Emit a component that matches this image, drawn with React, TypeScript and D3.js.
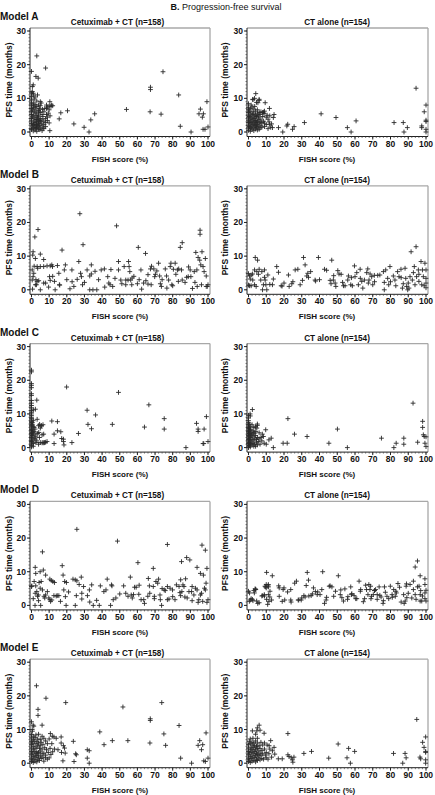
import React from 'react';
import * as d3 from 'd3';

type P = [number, number];

const aCetux: P[] = [
[0,18],[3,22.6],[8,19],[2.5,16.5],[3.8,16],[1,14],[0.5,13.5],[0,11.6],[1,11],[3.4,11],[5,9],[10.4,9],[11.3,8],[10,7.7],[8.5,7],[6.2,6.7],[0,8.6],[1,7.2],[0,5.2],[2,5.7],[4.3,6],[3.8,4.7],[2.8,3.7],[4.7,3.4],[1,2.2],[2.8,2.2],[0,0.7],[4.7,0.7],[10,2.7],[10.4,0.4],[6.6,1.2],[2.8,1.4],[8.5,5.2],[9,4.4],[15.7,3.9],[16.6,5.7],[20.4,6.3],[24,2.4],[29.8,1.4],[32.6,0],[33.6,3.6],[35.8,5.4],[53.8,6.7],[67.4,13.3],[67.4,12.6],[67.2,6],[74.5,17.9],[73.4,5.3],[83.4,11],[84.3,1.7],[90.4,0],[94.9,5.4],[95.7,6.8],[96.8,4.4],[97.4,5.4],[97.2,0.8],[98.3,0.8],[99.4,9],[100,1.5],
[0,1],[0,2.5],[0,3.3],[0,4],[0,6],[0,7],[0,8],[0,9.5],[0,10.5],[0.5,1.8],[0.5,4.5],[0.5,6.5],[0.5,12],[1,0.3],[1,1.2],[1,3],[1,5],[1,7.8],[1,8.6],[1,11.5],[1.5,2],[1.5,4.2],[1.5,6.2],[1.5,9.8],[2,0.6],[2,1.4],[2,2.8],[2,3.6],[2,7.4],[2,8.2],[2,10.4],[2.5,1],[2.5,4.8],[2.5,6.8],[3,0.2],[3,2],[3,2.6],[3,3],[3,5.6],[3,7.6],[3,9.2],[3.5,1.6],[3.5,3.8],[3.5,4.4],[4,0.9],[4,2.4],[4,3.2],[4,5],[4,6.4],[4,8],[4.5,2],[4.5,7],[5,1.2],[5,3],[5,4],[5,5.8],[5,7.8],[5.5,2.6],[5.5,8.6],[6,0.4],[6,1.8],[6,3.6],[6,5.2],[6.5,4.6],[7,1],[7,2.2],[7,3.2],[7,6],[7.5,7],[8,1.6],[8,2.8],[8,4],[8.5,8],[9,3.4],[9,7.4],[9.5,5.6],[10,6.6],[10.5,4.8],[11,7.6],[12,7.8]
];

const aCT: P[] = [
[94.4,13],[100,8],[99,6],[100,3.5],[100,3.1],[97.6,1.8],[97.6,1.3],[100,0.8],[100,0],[87.2,2.8],[87.6,0],[89.5,1.3],[82,2.8],[60.6,3.3],[55.7,1.3],[57.8,0],[49.3,4.3],[40.9,5.4],[31.5,2.8],[25.7,1.6],[24.8,0.8],[22.1,2.3],[21.6,1.8],[19.3,0],[16.9,1.3],[14.4,5.2],[14,4.3],[13.5,1.3],[11.8,7],[11.6,3],[11.8,2.3],[9.4,8.7],[8.8,5.5],[8.4,5.9],[4.1,11.4],[3.4,10],[2.4,9.7],[6,9.7],[5.3,8.7],[0,8.4],
[0,0.5],[0,1.2],[0,2],[0,2.8],[0,3.5],[0,4.2],[0,5],[0,5.8],[0,6.6],[0,7.2],[0.5,1.6],[0.5,3],[0.5,4.6],[0.5,6.2],[1,0.2],[1,1],[1,2.4],[1,3.8],[1,5.4],[1,7],[1.5,1.4],[1.5,2.8],[1.5,4.2],[1.5,8],[2,0.8],[2,1.8],[2,3.2],[2,4.8],[2,6],[2,7.4],[2.5,2.2],[2.5,3.6],[2.5,5.2],[2.5,9.6],[3,0.4],[3,1.2],[3,2.6],[3,4],[3,5.6],[3,6.8],[3.5,1.8],[3.5,3],[3.5,4.4],[3.5,7.6],[4,0.9],[4,2],[4,3.4],[4,5],[4,6.2],[4.5,1.4],[4.5,2.8],[4.5,4.6],[4.5,8.8],[5,0.6],[5,2.2],[5,3.2],[5,5.4],[5,6.6],[5.5,1.6],[5.5,3.8],[5.5,4.8],[6,0.8],[6,2.6],[6,4.2],[6,5.8],[6,9.4],[6.5,1.2],[6.5,3],[6.5,5.2],[7,2],[7,3.6],[7,6],[7.5,1.4],[7.5,2.8],[8,4.6],[8,5.8],[8.5,3.2],[9,1.6],[9,2.6],[9,6.2],[10,4.4],[10,2.2],[10.5,5],[11,1],[11,3.8],[12,4.8],[12.5,1.4],[13,2.4]
];

const bCetux: P[] = [
[27.4,22.6],[48.2,19],[3.7,17.9],[1.9,15.7],[29.2,13.4],[17.3,11.8],[5,10.6],[0.9,11.3],[2.2,9.3],[6.9,9],[0.7,10.3],[26.8,8.4],[31.5,5.9],[27.8,4.9],[28.3,3.9],[25.9,3.1],[22.9,5.9],[19.2,7.4],[18.6,5.9],[15.5,4.9],[14.7,7.2],[11.5,7.4],[11.9,6.9],[10.6,7.1],[8.8,7.1],[6.9,6.9],[5,6.9],[3.2,6.9],[3.5,6.4],[0.4,5.9],[1.3,4.9],[0.9,3.9],[0.4,2.9],[3.2,2.5],[4.1,2.7],[2.8,1.5],[2.2,1.5],[6.9,2],[10.2,3.9],[10.6,2.8],[9.7,0.8],[5,0],[0.6,0.2],[13.4,0],[15.8,1.5],[21.8,0.3],[28.9,1.5],[33.9,4.7],[33,4.1],[33.9,7.4],[33,0],[34.8,0],[37,0],[39.5,5.9],[41.3,6.2],[43.2,3.9],[43.8,2],[44.5,1.5],[47.3,3.4],[49.3,8.4],[49.3,5.9],[50.6,2.9],[51.2,1.8],[52.5,6.9],[53.4,2.9],[53.4,1.5],
[55,8.4],[55.3,6.9],[55.7,5.4],[56.2,2.9],[56.8,1.5],[54.7,2.9],[60.5,12.6],[62,5.9],[62.4,0.2],[63.5,2],[64.6,10.8],[64.8,2.7],[66,1.7],[67.4,6.2],[67.8,1.5],[69.3,6.2],[69.8,3.9],[70.2,4.6],[72,7.9],[72.6,4.1],[73,1.8],[73.6,1],[75.8,6.2],[76.5,4.1],[76.7,0.5],[77.7,2.9],[78.6,6.9],[79,7.9],[79.5,1.5],[80.4,6.1],[81.4,7.9],[81.8,4.6],[82.7,5.9],[83.2,2.5],[83.4,6.2],[84.3,12.6],[85.4,14],[85,5.9],[85.4,2.9],[87.9,3.7],[88.8,3.9],[89.9,5.9],[90.3,3.9],[91.2,0.4],[92.2,5.4],[92.6,2.2],[93.1,11.1],[93.7,5.9],[93.9,1],[94.4,9.6],[95.3,8.8],[95.5,17.7],[95.5,16.5],[95.9,7.4],[96.3,1.5],[96.6,11.3],[97.2,6.9],[97.8,5.4],[98.5,9.3],[99,4.1],[99,1],[99.6,1],[100,1.5],
[1.5,7],[2.5,3],[12,4],[20,3],[24,1],[36,5.5],[38,3],[45,6],[58,4],[60,1.8],[57,3.5],[66,4.5],[71,5.6],[74,3],[80,1.2],[87,2.2],[89,6.8],[8,2],[13,2.5],[16,1.4],[23,2.4],[30,2.2],[41.5,0.8],[46,1],[61,3],[68,7]
];

const bCT: P[] = [
[0.6,4.1],[1.5,4.4],[2.3,4.7],[0.6,1.2],[1.5,1.2],[2.4,2.9],[3.8,9.6],[5.1,8.8],[3.4,5.9],[4.7,5.4],[6,6.1],[5.6,4.6],[4.3,1],[3.4,1.5],[7.5,5.4],[6.9,2.9],[8.4,1.5],[7.9,0],[9,5.9],[9,3.7],[9.4,2.9],[9.8,1.5],[10.3,0],[10.9,4.4],[13.5,1.5],[15.9,6.9],[16.9,5.2],[18.4,1.2],[18.9,1.1],[22.5,4.4],[22.9,1],[24.4,1.8],[26.3,5.9],[27.8,6.1],[29.1,1.5],[30.4,2.8],[31,9.6],[31.9,7.4],[32.8,4.1],[33.4,4.9],[33.8,3.7],[37.5,2.9],[37.8,2.6],[39.4,9.6],[42.8,6.1],[46,2.8],[46.5,1.8],[46.9,8.8],[47.8,2.9],[48.8,2],[49.2,1],[50.3,5.7],[51,4.7],[52.2,4.6],[53.5,1.2],[54.4,1.2],[55.9,2.9],[56.3,4.1],[57.6,1.5],[58.5,1.2],[59.7,7.1],[60,3.9],[61,5.1],[61.9,1.5],[62.9,6.1],[63.8,2.5],[64.4,0.5],[65.3,2.9],[66.6,5.1],[67.2,6.2],[67.5,2],[67.9,2.9],[68.5,4.7],[69.4,3.9],[70,1.5],[70.9,4.3],[72.8,4.3],
[76,5.4],[76.5,0],[76.5,2.2],[77.3,5.9],[78.4,3.4],[79,1.5],[79.7,6.9],[81.6,4.1],[82.5,2.9],[84,5.4],[84.8,3.9],[85.9,6.1],[86.7,0.5],[87.2,1.8],[88.2,6.4],[88.6,3.4],[89.1,1],[89.7,0],[90.4,0.5],[91,3.9],[91.6,11.3],[92.3,2.9],[92.9,5.1],[93.4,6.9],[93.8,1.5],[94.4,12.8],[94.7,3.9],[95.7,5.9],[96,2.5],[97.2,8.4],[97.6,1.5],[98,5.9],[98.5,3.9],[99.4,7.9],[100,5.9],[100,3.4],[100,2],[100,0.6],
[0,4.8],[0,1.4],[1,3.2],[12,1.6],[14,3.2],[20,2],[25,2.4],[35,5.4],[40,3],[44,5.8],[48,4.2],[53,2.2],[58,3.6],[63,3.4],[71,2.4],[74,4.4],[80,2.4],[83,1.2],[86,3.6],[90,2],[96,4.6],[99,1.2]
];

const cCetux: P[] = [
[0,23],[0,22.5],[0,19],[0,18.5],[0,17.8],[0,16],[0,15.5],[0,14],[0,13.2],[0,12.5],[0,11.8],[0,11],[0,10.5],[0,10],[0,9.5],[0,9],[0,8.6],[0,8.2],[0,7.8],[0,7.4],[0,7],[0,6.6],[0,6.2],[0,5.8],[0,5.4],[0,5],[0,4.6],[0,4.2],[0,3.8],[0,3.4],[0,3],[0,2.6],[0,2.2],[0,1.8],[0,1.4],[0,1],[0,0.6],[0,0.2],
[0.5,6.8],[0.5,5.2],[0.5,3.6],[0.5,2],[0.5,7.4],[0.5,4.4],[1,11.2],[1,8],[1,4.4],[1,1.2],[1,0.4],[1,6.2],[1.5,6],[1.5,2.8],[1.5,4.8],[2,2.5],[2,5.5],[2,3.8],[2.5,1.5],[2.5,3.2],[3,14.1],[3.2,8.4],[3,2],[3.5,4.2],[4,6.5],[4,1],[4.5,3],[5,5.8],[5,1.5],[5.5,6.5],[6,3.8],[6,1.4],[6.5,6.8],[7,1.4],[8,1.6],[2.2,11.4],[4.6,6.9],[5.6,6.5],[4.1,4.5],[6.9,4],[6.5,1.5],[7.4,1.5],[8.8,1.8],
[11.5,7.9],[12.8,4],[12.8,1.2],[14.7,7.7],[14.7,5],[16.6,4.7],[17.1,2.7],[18.1,2.5],[18.1,1.8],[18.4,0.8],[19.9,18],[22.9,1.5],[26.6,4.2],[31.5,11.1],[32,6.9],[34,5.6],[36.3,9.7],[45.8,6.9],[49.3,16.4],[64,6.1],[66.5,12.7],[75.2,8.6],[75.2,5.5],[87.5,0],[93.5,7.2],[94.4,5.5],[94.4,4.8],[97.6,1.2],[97.2,1.2],[97.8,5.5],[99.1,9.2],[100,1.8]
];

const cCT: P[] = [
[0,0],[0,0.4],[0,0.8],[0,1.2],[0,1.6],[0,2],[0,2.4],[0,2.8],[0,3.2],[0,3.6],[0,4],[0,4.4],[0,4.8],[0,5.2],[0,5.6],[0,6],[0,6.4],[0,6.8],[0,7.4],[0,8],[0,8.8],[0,9.6],[0.5,0.6],[0.5,1.4],[0.5,2.6],[0.5,3.4],[0.5,4.2],[0.5,5],[0.5,5.8],[0.5,7],[1,0.2],[1,1],[1,2],[1,3],[1,4],[1,5.4],[1,6.2],[1,9.4],[1.5,1.6],[1.5,3.6],[1.5,4.6],[2,0.8],[2,2.4],[2,4],[2,6.8],[2.5,1.2],[2.5,3.2],[2.5,5],[3,0.4],[3,2],[3,4.4],[3,6],[3.5,1],[3.5,2.8],[4,0.4],[4,3.6],[4,6.2],[4.5,1.6],[4.5,2.4],[5,0.8],[5,3],[5,6.6],[5.5,1.8],[6,2.6],[6,4.4],[6.5,1],[7,3],[7.5,2],
[2.2,11.3],[0.9,10],[5,7],[4.7,5.8],[4.1,4.8],[3.2,4.3],[7.8,4],[8.4,3.3],[9.7,5.3],[8.8,1.3],[10,1],[11.5,2.3],[12.8,2.8],[14,0],[19.5,1.3],[21.8,1.3],[22.2,8.6],[25.9,4],[33,3.3],[45.3,1.3],[50.1,5.5],[55.7,0],[74.9,2.8],[81.9,0],[83.2,1.3],[87.5,2.8],[87.5,1],[92.7,13.2],[95.3,1.6],[98.1,7.8],[98.1,6],[98.5,3.8],[99,3.3],[99.4,1.3],[100,0.3],[100,3.2]
];

const dCetux: P[] = [
[25.7,22.6],[48.7,19.1],[77,18.1],[96.6,17.9],[98.5,16.4],[6.2,15.9],[60.3,12.7],[85,13],[87.9,14.2],[89.7,13.5],[2.1,11.3],[17.4,11.8],[69,11],[93.8,11.3],[99.4,11],[4.9,10],[6.7,10.5],[8,9],[2.4,9.5],[17.9,9],[28.2,8.4],[42.9,7.8],[56,8.4],[66.2,8],[84.5,7.6],[87.3,7.9],[97.4,9],[95.7,9.5],[10.4,7.8],[11.2,7.4],[12.1,7.1],[13,6.8],[18.8,7.1],[19.8,6.8],[23.5,7.8],[24.8,7.6],[25.7,7.3],[1.5,7.1],[4.3,6.8],[5.5,7.1],[0.2,5.8],[2.4,5.8],[4.9,5.1],[6.2,4.6],[9,4.1],[8,3.1],[3,4.1],[3.9,3.1],[3.4,2.7],[2.1,3.6],[7.1,2.7],[7.5,2.2],[9.8,2.2],[10.4,1.7],[10.8,1.2],[12.7,2.9],[14.6,2.9],[15.5,2.9],[16.4,1.2],[18.3,4.6],[19.2,2.6],[19.6,0],[2,0],[5.2,0],[24.8,0],[25.4,2.9],[29.5,5.6],[28.5,3.6],[28.5,1.9],[31.7,2.9],[32.8,4.6],[34.1,6.1],[35,0],[36.9,1.5],[38.4,0],[41,4.1],[42.2,4.6],[45.3,6.1],[45.6,5.8],[44.8,0],[46.3,1.7],[47.8,2.2],[52.2,5.8],[53.4,3.6],[54.7,2.7],[56.5,3.1],[57.1,2.2],[57.8,3.2],[58.4,5.4],[59.3,5.4],[60.8,3.3],[62.1,1.7],[63.6,1.7],[65.9,2.7],[66.8,5.8],[69,5.6],[69.6,2.7],[69.6,2],[70.5,7.1],[71.5,6.6],[72,7.8],[72.8,3.1],[73,1.7],[73.7,0],[75.2,4.6],[75.8,4.4],[77,1.7],[77,5.6],[77.9,1.9],[78.5,5.1],[79.9,4.6],[81.3,1.7],[82.1,6.1],[83.6,5.6],[84.1,3.8],[84.5,2.9],[85.2,4.1],[85.8,6.1],[86.4,5.6],[86.9,2.5],[88.2,2.2],[89.2,4.1],[90.7,4.1],[91,5.6],[92,3.1],[92.9,5.1],[93.8,4.6],[94.4,0.9],[94.8,1.7],[95.7,3.1],[96.3,3.6],[97,1.2],[98,5.1],[98.5,4.6],[98.9,6.6],[99.4,0.9],[100,1.7],
[0,5.6],[1,2],[4,1.4],[11.5,1.6],[14,2.8],[21,4],[27,6.2],[33,1],[39,5.8],[50,3.4],[61,6],[64,0.6],[67,3.6],[74,5],[80,2.6],[91,1.4]
];

const dCT: P[] = [
[95.2,13.2],[93.9,11.4],[96.7,8.8],[99.4,7.9],[99.4,6.2],[95.2,5.5],[96.1,5.7],[92.9,7.2],[91,6.2],[92.9,4.7],[96.7,3.2],[93.9,3.2],[94.4,1.8],[99.4,3.7],[99.4,2],[96.7,1.3],[97.6,1.3],[88.8,5.7],[87.4,3.2],[87.7,0.6],[88.3,1.3],[89.2,2.3],[85.1,5.4],[84.2,6.5],[83.3,3.7],[82.7,2.7],[81.8,4.7],[80.9,3.2],[79.9,5.7],[78,2.7],[77.1,3.9],[76.6,5.5],[75.8,0.6],[74.7,2.5],[73.6,5.5],[72.5,3.2],[72.5,1.8],[71.6,4.7],[71,4.4],[70.3,3.2],[69.3,2.7],[68.4,4.7],[67.8,6.2],[68.8,5.7],[67.3,3.2],[66.5,4.7],[65.4,2],[64.7,1.1],[63.2,4.7],[62.3,7.2],[60.4,2],[59.5,2.9],[58.2,3.5],[57.6,5.5],[55.8,1.8],[54.3,4.9],[53.5,1.3],[52.6,2.3],[51.7,3.2],[50.6,8.8],[48,2.7],[47,5.5],[45.5,5.7],[43.7,1.6],[42.8,0.6],[41.8,10],[41.3,4.7],[40.3,3.2],[38.7,3.2],[37.7,4.1],[36.6,5.2],[35.3,2.9],[33.8,7.5],[33.1,9.8],[32.5,5.9],[31.9,2.5],[31.2,2.9],[29.7,1.6],[28.3,1.6],[27,7.2],[23.8,4.7],[23.8,1.6],[20.4,1.6],[20,5.2],[19.5,4.7],[17.3,5.2],[17.3,2.7],[13.4,8.8],[13,1.6],[12.1,4.2],[11.2,5.5],[11.2,6.2],[11.2,3.2],[10.8,0.3],[10.2,9.8],[10.2,1.8],[9.3,5.7],[8.9,3.2],[8,2.9],[4.1,4.7],[3.7,4.9],[3.3,3.7],[4.6,1.3],[5.2,0.6],[2.2,1.8],[1.5,2],[0.6,3.7],
[0,4.2],[0.5,1.2],[1,1.6],[2.5,1.4],[3,4.4],[4,4.8],[6,0.8],[7.5,2.8],[9,2.8],[9.5,5.5],[10,5.2],[10,6.2],[11,5.8],[11.5,1.2],[12,2.5],[17,5.8],[19,1.2],[22,4],[24,1],[26,6.6],[28,1.6],[30,2.2],[34,2.8],[36,3.4],[39,4],[44,2.4],[46,5.8],[49,4.2],[52,4.6],[56,2.6],[58,3.2],[61,2],[63,4.2],[66,6],[69,2],[71,4.4],[74,3],[76,1.4],[79,2],[81,2.4],[83,4.2],[86,1],[89,6.4],[90,3.6],[92,2.2],[97,4.4],[98,2.8],[100,4.5],[100,1.3]
];

const eCetux: P[] = [
[2.8,23],[8.2,19.3],[19.4,18],[73.8,18],[3.7,16],[3.7,14.2],[51.8,16.7],[67.3,13.2],[67.3,12.7],[83.6,11.2],[0,12.3],[0.9,11.3],[1.3,11],[6,11.3],[0.4,10],[10.7,8.8],[11.8,8],[12.7,7.8],[16.8,7.8],[16.8,6],[18.1,5.2],[18.7,4.5],[19.1,3],[17.8,0.7],[23.7,6.5],[25,2.8],[25.4,2.5],[24.1,0.5],[31.6,4],[32.7,3.7],[31.6,1.5],[32.7,0],[38.7,9.3],[41.1,5.5],[45.8,6.7],[54.6,6.7],[67.1,6],[75,8.7],[76,5.3],[84.5,1.5],[90.7,0],[94.4,5.3],[95.3,6.7],[96.3,4],[97,5.5],[97.6,0.7],[98.5,0.5],[98.9,9],[100,1.5],
[0,0.5],[0,1.5],[0,2.5],[0,3.5],[0,4.5],[0,5.5],[0,6.5],[0,7.5],[0,8.5],[0.5,1],[0.5,3],[0.5,6],[0.5,9.5],[1,0.2],[1,2],[1,4],[1,5],[1,7],[1,8],[1.5,1.2],[1.5,3.4],[1.5,6.6],[2,0.6],[2,2.4],[2,4.4],[2,5.8],[2,7.6],[2.5,1.6],[2.5,3],[2.5,8.4],[3,0.4],[3,2.2],[3,3.4],[3,4.8],[3,6.4],[3.5,1],[3.5,2.8],[3.5,5.4],[3.5,7.2],[4,1.8],[4,3.2],[4,6],[4,8.6],[4.5,0.8],[4.5,4.4],[5,2.2],[5,3.6],[5,5.2],[5,7],[5.5,1.4],[5.5,6.2],[6,2.8],[6,4.2],[6,8],[6.5,1.8],[6.5,5.6],[7,0.6],[7,3],[7,7.4],[7.5,4.6],[8,1.6],[8,2.4],[8,6.6],[8.5,4],[9,1.2],[9,5.8],[9.5,3.2],[10,1.6],[10,7.2],[10.5,4.4],[11,2.6],[11.5,5.8],[12,3.4],[13,4.2],[14,7.4],[15,4],[17,3.2]
];

const eCT: P[] = [
[94.8,13],[99.8,7.8],[98.1,6.2],[98.9,4.7],[99.8,3.5],[99.8,3.2],[96.6,1.8],[97,1.3],[99.8,1],[99.8,0],[88.2,2.9],[88.8,1.6],[86.9,0],[81.7,2.9],[59.8,3.5],[56.4,4.4],[55.5,1.6],[57.4,0],[50.5,5.7],[45.2,1.5],[35.5,3.5],[31.2,2.9],[22.2,8.8],[22.2,2.5],[22.8,2],[24.1,1.6],[24.7,1],[25.6,1.8],[25,0.3],[19,1.3],[16.8,1.3],[14.8,2.7],[14.4,4.7],[12.5,6.7],[13.5,3.7],[11.6,5.2],[8.8,8.9],[4.7,9.6],[2.2,9.6],[6,11.3],[5,10.5],[6.5,9.8],
[0,0.5],[0,1.5],[0,2.5],[0,3.5],[0,4.5],[0,5.5],[0.5,1],[0.5,3],[0.5,6.5],[1,0.2],[1,2],[1,4],[1,5.8],[1,7.2],[1.5,1.4],[1.5,3.2],[1.5,4.8],[2,0.6],[2,2.4],[2,4.2],[2,6.2],[2.5,1.6],[2.5,3.6],[2.5,5.4],[2.5,7.4],[3,0.8],[3,2.8],[3,4.6],[3,6],[3.5,1.8],[3.5,3.4],[3.5,5.2],[4,0.4],[4,2.2],[4,4],[4,6.6],[4,8.6],[4.5,1.2],[4.5,3],[4.5,5],[5,0.8],[5,2.6],[5,4.4],[5,6],[5,7.4],[5.5,1.6],[5.5,3.6],[6,2.2],[6,5.2],[6.5,1],[6.5,3],[6.5,4.4],[7,2.4],[7,6.2],[7.5,1.4],[7.5,3.8],[8,2.8],[8,5.4],[8.5,1.2],[9,4.2],[9,6],[9.5,2.4],[10,1.6],[10,3.2],[10.5,5.4],[11,1.2],[11.5,2.8],[12,4.2],[13,1.8]
];

const panelData: P[][][] = [
  [aCetux, aCT],
  [bCetux, bCT],
  [cCetux, cCT],
  [dCetux, dCT],
  [eCetux, eCT],
];

const modelNames = ['Model A', 'Model B', 'Model C', 'Model D', 'Model E'];
const armTitles = ['Cetuximab + CT (n=158)', 'CT alone (n=154)'];
const xTicks = [0, 10, 20, 30, 40, 50, 60, 70, 80, 90, 100];
const yTicks = [0, 10, 20, 30];
const xMinor = d3.range(0, 101, 2);
const yMinor = d3.range(0, 31, 1);

const FONT = "'Liberation Sans', Arial, Helvetica, sans-serif";

const cols = [
  { axis: 30, x0: 31.5, x1: 208, right: 210, yLab: 9, tickEnd: 26, titleX: 117.5, fishX: 120 },
  { axis: 247, x0: 248.5, x1: 426, right: 428, yLab: 225, tickEnd: 243, titleX: 337, fishX: 327 },
];

const rowY0 = (row: number) => 132 + 157.8 * row;

function Panel({ data, row, col }: { data: P[]; row: number; col: number }) {
  const c = cols[col];
  const y0 = rowY0(row);
  const x = d3.scaleLinear().domain([0, 100]).range([c.x0, c.x1]);
  const y = d3.scaleLinear().domain([0, 30]).range([y0, y0 - 101]);
  const top = y(30) - 3;
  const bottom = y0 + 4.5;
  const arm = 2.4;
  const d = data.map(([vx, vy]) => {
    const px = x(vx), py = y(vy);
    return `M${px - arm},${py}h${arm * 2}M${px},${py - arm}v${arm * 2}`;
  }).join('');
  return (
    <g>
      <line x1={c.axis} x2={c.right} y1={top} y2={top} stroke="#a8a8a8" strokeWidth={1.3} />
      <line x1={c.right} x2={c.right} y1={top} y2={bottom} stroke="#a8a8a8" strokeWidth={1.3} />
      <line x1={c.axis} x2={c.axis} y1={top} y2={bottom} stroke="#222" strokeWidth={1} />
      <line x1={c.axis} x2={c.right} y1={bottom} y2={bottom} stroke="#222" strokeWidth={1} />
      {yMinor.map((t) => (
        <line key={'ym' + t} x1={c.axis - 1.5} x2={c.axis} y1={y(t)} y2={y(t)} stroke="#444" strokeWidth={0.7} />
      ))}
      {yTicks.map((t) => (
        <g key={'y' + t}>
          <line x1={c.axis - 3} x2={c.axis} y1={y(t)} y2={y(t)} stroke="#222" strokeWidth={1} />
          <text x={c.tickEnd} y={y(t) + 3} textAnchor="end" fontSize={8.5} fontWeight="bold" fill="#111">{t}</text>
        </g>
      ))}
      {xMinor.map((t) => (
        <line key={'xm' + t} x1={x(t)} x2={x(t)} y1={bottom} y2={bottom + 1.5} stroke="#444" strokeWidth={0.7} />
      ))}
      {xTicks.map((t) => (
        <g key={'x' + t}>
          <line x1={x(t)} x2={x(t)} y1={bottom} y2={bottom + 3} stroke="#222" strokeWidth={1} />
          <text x={x(t)} y={y0 + 14.5} textAnchor="middle" fontSize={8.5} fontWeight="bold" fill="#111">{t}</text>
        </g>
      ))}
      <path d={d} stroke="#2a2a2a" strokeWidth={0.9} fill="none" />
      <text x={c.titleX} y={y0 - 107} textAnchor="middle" fontSize={8.2} fontWeight="bold" fill="#111">{armTitles[col]}</text>
      <text x={c.fishX} y={y0 + 29.5} textAnchor="middle" fontSize={8} fontWeight="bold" fill="#111">FISH score (%)</text>
      <text transform={`translate(${c.yLab + 3},${y0 - 52}) rotate(-90)`} textAnchor="middle" fontSize={8.5} fontWeight="bold" fill="#111">PFS time (months)</text>
    </g>
  );
}

export default function App() {
  return (
    <div style={{ position: 'absolute', left: 0, top: 0 }}>
      <svg width={435} height={795} style={{ display: 'block', background: '#fff', fontFamily: FONT }}>
        <text x={226} y={9.5} textAnchor="middle" fontSize={9} fill="#111">
          <tspan fontWeight="bold">B.</tspan> Progression-free survival
        </text>
        {panelData.map((pair, row) => (
          <g key={row}>
            <text x={0} y={rowY0(row) - 112} fontSize={10} fontWeight="bold" fill="#111">{modelNames[row]}</text>
            {pair.map((data, col) => (
              <Panel key={col} data={data} row={row} col={col} />
            ))}
          </g>
        ))}
      </svg>
    </div>
  );
}
